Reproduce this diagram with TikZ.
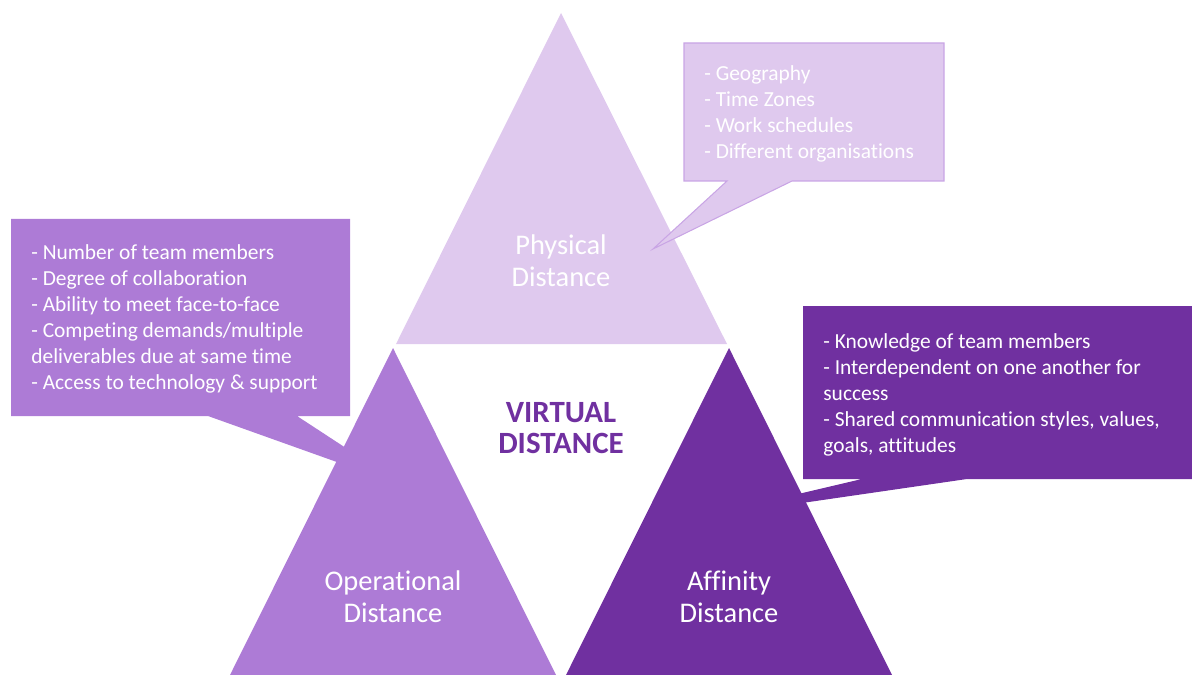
\documentclass[tikz,border=0pt]{standalone}
\usepackage{fontspec}
\setmainfont{Carlito}[Ligatures=NoCommon]
\definecolor{phys}{HTML}{DFC9EE}
\definecolor{physline}{HTML}{C9A5E5}
\definecolor{oper}{HTML}{AD7BD6}
\definecolor{aff}{HTML}{7030A0}
\tikzset{
  listtext/.style={text=white, align=left, inner sep=0pt, anchor=west, font=\fontsize{12.2}{14.75}\selectfont},
  tritext/.style={text=white, align=center, inner sep=0pt, font=\fontsize{16.2}{18.1}\selectfont},
}
\begin{document}
\begin{tikzpicture}[x=0.02cm,y=-0.02cm]
\useasboundingbox (0,0) rectangle (1192,675);
% triangles
\fill[phys] (561,13) -- (727,344) -- (396,344) -- cycle;
\fill[oper] (393,348) -- (556,675) -- (230,675) -- cycle;
\fill[aff] (729,348) -- (892,675) -- (566,675) -- cycle;
% callouts
\filldraw[fill=phys, draw=physline, line width=0.6pt]
  (684,43) -- (944,43) -- (944,181) -- (792,181) -- (653,249) -- (727,181) -- (684,181) -- cycle;
\fill[oper]
  (11,219) -- (350,219) -- (350,416) -- (297,416) -- (404,486) -- (208,416) -- (11,416) -- cycle;
\fill[aff]
  (803,306) -- (1192,306) -- (1192,479) -- (967,479) -- (692,519) -- (862,479) -- (803,479) -- cycle;
% callout texts
\node[listtext] (tphys) at (704,114) {- Geography\\- Time Zones\\- Work schedules\\- Different organisations};
\node[listtext] (toper) at (31,319) {- Number of team members\\- Degree of collaboration\\- Ability to meet face-to-face\\- Competing demands/multiple\\deliverables due at same time\\- Access to technology \& support};
\node[listtext] (taff) at (823,395) {- Knowledge of team members\\- Interdependent on one another for\\success\\- Shared communication styles, values,\\goals, attitudes};
% triangle labels
\node[tritext] (lphys) at (561,261) {Physical\\Distance};
\node[tritext] (loper) at (393,597) {Operational\\Distance};
\node[tritext] (laff) at (729,597) {Affinity\\Distance};
\node[tritext, text=aff, font=\bfseries\fontsize{17.6}{18.1}\selectfont] (virt) at (561,428) {VIRTUAL\\DISTANCE};
\end{tikzpicture}
\end{document}
